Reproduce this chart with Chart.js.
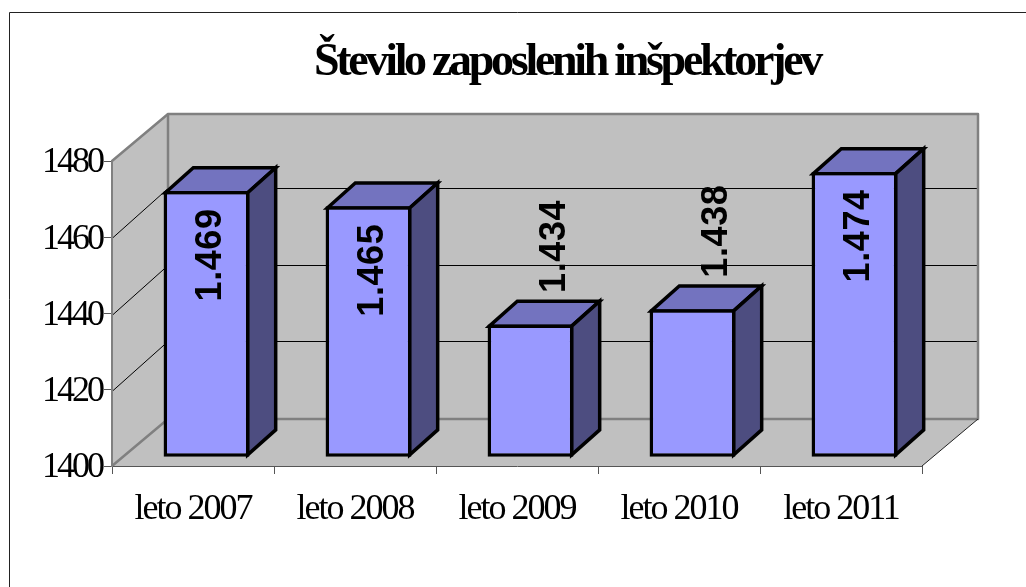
<!DOCTYPE html>
<html><head><meta charset="utf-8">
<style>html,body{margin:0;padding:0;background:#fff}#w{width:1026px;height:587px;position:relative}</style>
<script src="https://cdn.jsdelivr.net/npm/chart.js@4"></script>
</head><body><div id="w"><canvas id="c" width="1026" height="587"></canvas></div>
<script>
const chartTitle = 'Število zaposlenih inšpektorjev';
const categories = ['leto 2007','leto 2008','leto 2009','leto 2010','leto 2011'];
const inspectors = [1469,1465,1434,1438,1474];
const valueLabels = ['1.469','1.465','1.434','1.438','1.474'];
const yMin = 1400, yMax = 1480, yStep = 20;

const WALL_DX = 56, WALL_DY = -47, GRID_DY = -50;
const BAR_SHIFT_X = 13.5, BAR_SHIFT_Y = -12;
const BAR_DX = 28, BAR_DY = -25, BAR_LINE = 3.5;

const threeD = {
  id:'threeD',
  beforeDraw(chart){
    const {ctx,chartArea:a,scales:{y}} = chart;
    ctx.save();
    ctx.strokeStyle='#222'; ctx.lineWidth=1;
    ctx.beginPath(); ctx.moveTo(9.5,587); ctx.lineTo(9.5,12.5); ctx.lineTo(1026,12.5); ctx.stroke();
    const L=a.left,R=a.right,T=a.top,B=a.bottom;
    const dx=WALL_DX,dy=WALL_DY;
    ctx.fillStyle='#C0C0C0';
    ctx.fillRect(L+dx,T+dy,R-L,B-T);
    ctx.beginPath();ctx.moveTo(L,T);ctx.lineTo(L+dx,T+dy);ctx.lineTo(L+dx,B+dy);ctx.lineTo(L,B);ctx.closePath();ctx.fill();
    ctx.beginPath();ctx.moveTo(L,B);ctx.lineTo(L+dx,B+dy);ctx.lineTo(R+dx,B+dy);ctx.lineTo(R,B);ctx.closePath();ctx.fill();
    ctx.strokeStyle='#000';ctx.lineWidth=1;
    for(let v=yMin+yStep;v<yMax;v+=yStep){
      const p=Math.round(y.getPixelForValue(v))+1.5;
      ctx.beginPath();ctx.moveTo(L,p);ctx.lineTo(L+dx,p+GRID_DY);ctx.lineTo(R+dx,p+GRID_DY);ctx.stroke();
    }
    ctx.strokeStyle='#808080';ctx.lineWidth=2.5;
    ctx.lineJoin='round';
    ctx.strokeRect(L+dx,T+dy,R-L,B-T);
    ctx.beginPath();ctx.moveTo(L,T);ctx.lineTo(L+dx,T+dy);ctx.moveTo(L,B);ctx.lineTo(L+dx,B+dy);ctx.stroke();
    ctx.strokeStyle='#222';ctx.lineWidth=1;
    ctx.beginPath();ctx.moveTo(R,B);ctx.lineTo(R+dx,B+dy);ctx.stroke();
    ctx.restore();
  },
  beforeDatasetsDraw(chart){
    const {ctx} = chart;
    const meta = chart.getDatasetMeta(0);
    const inset = BAR_LINE/2;
    ctx.save();
    ctx.translate(BAR_SHIFT_X,BAR_SHIFT_Y);
    ctx.lineWidth=BAR_LINE;ctx.strokeStyle='#000';ctx.lineJoin='miter';
    meta.data.forEach(b=>{
      const l=b.x-b.width/2+inset,r=b.x+b.width/2-inset,t=b.y+inset,bt=b.base-inset;
      ctx.fillStyle='#7373BF';
      ctx.beginPath();ctx.moveTo(l,t);ctx.lineTo(l+BAR_DX,t+BAR_DY);ctx.lineTo(r+BAR_DX,t+BAR_DY);ctx.lineTo(r,t);ctx.closePath();ctx.fill();ctx.stroke();
      ctx.fillStyle='#4D4D80';
      ctx.beginPath();ctx.moveTo(r,t);ctx.lineTo(r+BAR_DX,t+BAR_DY);ctx.lineTo(r+BAR_DX,bt+BAR_DY);ctx.lineTo(r,bt);ctx.closePath();ctx.fill();ctx.stroke();
    });
    ctx.restore();
    ctx.save();
    ctx.translate(BAR_SHIFT_X,BAR_SHIFT_Y);
  },
  afterDatasetsDraw(chart){
    const {ctx} = chart;
    ctx.restore();
    const meta = chart.getDatasetMeta(0);
    ctx.save();
    ctx.letterSpacing='0.6px';
    ctx.fillStyle='#000';ctx.font='bold 36px "Liberation Sans"';
    ctx.textAlign='center';ctx.textBaseline='middle';
    meta.data.forEach((b,i)=>{
      const inside = inspectors[i]>1450;
      const cx=b.x+BAR_SHIFT_X+(inside?4:24);
      const top=b.y+BAR_SHIFT_Y;
      const cy=inside?top+64:top-78;
      ctx.save();ctx.translate(cx,cy);ctx.rotate(-Math.PI/2);
      ctx.fillText(valueLabels[i],0,1);
      ctx.restore();
    });
    ctx.restore();
    ctx.save();
    ctx.letterSpacing='-3.3px';
    ctx.fillStyle='#000';ctx.font='bold 46px "Liberation Serif"';
    ctx.textAlign='center';ctx.textBaseline='alphabetic';
    ctx.fillText(chartTitle,567,75);
    ctx.restore();
  }
};
function spaced(scale,px){
  if(scale._spaced) return; scale._spaced=true;
  const orig=scale.drawLabels;
  scale.drawLabels=function(a){this.ctx.letterSpacing=px;orig.call(this,a);this.ctx.letterSpacing='0px';};
}

new Chart(document.getElementById('c'),{
  type:'bar',
  data:{labels:categories,datasets:[{label:chartTitle,data:inspectors,base:yMin-0.7,backgroundColor:'#9999FF',borderColor:'#000',borderWidth:BAR_LINE,borderSkipped:false,barPercentage:0.53,categoryPercentage:1,clip:false}]},
  plugins:[threeD],
  options:{
    responsive:false,animation:false,devicePixelRatio:1,
    layout:{padding:{left:0,right:104,top:161,bottom:0}},
    plugins:{legend:{display:false},title:{display:false},tooltip:{enabled:false}},
    scales:{
      x:{offset:true,
        afterFit(s){s.height=121;spaced(s,'-2px');},
        grid:{offset:true,drawOnChartArea:false,drawTicks:true,tickLength:8,color:'#555',tickWidth:1},
        border:{display:true,color:'#555',width:1},
        ticks:{color:'#000',font:{family:'"Liberation Serif"',size:36},padding:14,maxRotation:0,autoSkip:false}},
      y:{min:yMin,max:yMax,
        afterFit(s){s.width=112;spaced(s,'-3px');},
        grid:{drawOnChartArea:false,drawTicks:true,tickLength:8,color:'#555',tickWidth:1},
        border:{display:true,color:'#808080',width:2},
        ticks:{stepSize:yStep,color:'#000',font:{family:'"Liberation Serif"',size:36},padding:2,labelOffset:2,callback:v=>String(v)}}
    }
  }
});
</script></body></html>
